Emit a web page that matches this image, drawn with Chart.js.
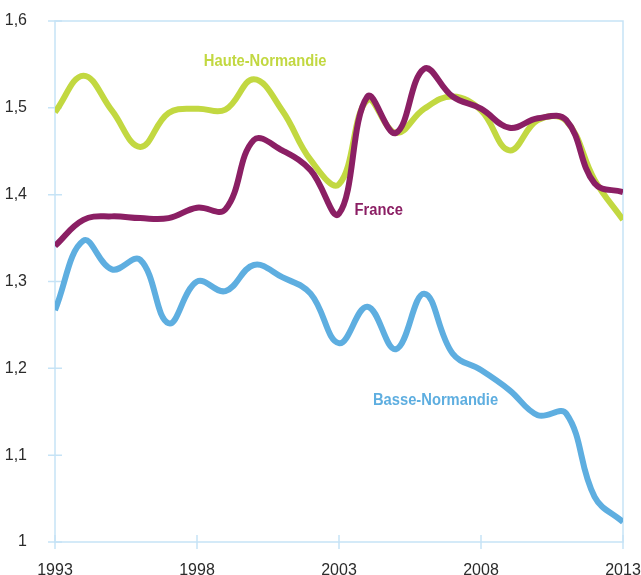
<!DOCTYPE html>
<html>
<head>
<meta charset="utf-8">
<script src="https://cdn.jsdelivr.net/npm/chart.js@4/dist/chart.umd.min.js"></script>
<style>
  html, body { margin: 0; padding: 0; background: #fff; }
  #wrap { width: 641px; height: 575px; }
</style>
</head>
<body>
<div id="wrap"><canvas id="fertChart"></canvas></div>
<script>
// Data
const years = [1993, 1994, 1995, 1996, 1997, 1998, 1999, 2000, 2001, 2002, 2003,
               2004, 2005, 2006, 2007, 2008, 2009, 2010, 2011, 2012, 2013];
const hauteNormandie = [1.495, 1.537, 1.497, 1.455, 1.494, 1.499, 1.498, 1.533, 1.497, 1.440, 1.412,
                        1.509, 1.471, 1.499, 1.513, 1.497, 1.451, 1.486, 1.485, 1.417, 1.371];
const france = [1.341, 1.371, 1.375, 1.373, 1.373, 1.385, 1.383, 1.463, 1.451, 1.428, 1.378,
                 1.513, 1.471, 1.545, 1.513, 1.499, 1.477, 1.488, 1.486, 1.413, 1.403];
const basseNormandie = [1.267, 1.347, 1.314, 1.325, 1.252, 1.300, 1.289, 1.319, 1.305, 1.286, 1.229,
                        1.271, 1.222, 1.286, 1.217, 1.198, 1.175, 1.146, 1.148, 1.052, 1.023];
const xTicks = [1993, 1998, 2003, 2008, 2013];
const yTicks = [1, 1.1, 1.2, 1.3, 1.4, 1.5, 1.6];

const AXIS_COLOR = '#c6e3f6';

const toPoints = vals => years.map((y, i) => ({ x: y, y: vals[i] }));

// Series names written next to the curves
const seriesLabels = [
    { text: 'Haute-Normandie', x: 2000.4, y: 1.553, color: '#c2d841' },
    { text: 'France', x: 2004.4, y: 1.382, color: '#8b1f64' },
    { text: 'Basse-Normandie', x: 2006.4, y: 1.163, color: '#5eaee0' }
];

// Axis box + cross tick marks
const frame = {
    id: 'frame',
    beforeDatasetsDraw(chart) {
        const { ctx, chartArea: a, scales } = chart;
        ctx.save();
        ctx.strokeStyle = AXIS_COLOR;
        ctx.lineWidth = 1.5;
        ctx.strokeRect(a.left, a.top, a.right - a.left, a.bottom - a.top);
        ctx.beginPath();
        yTicks.forEach(v => {
            const py = scales.y.getPixelForValue(v);
            ctx.moveTo(a.left - 7, py);
            ctx.lineTo(a.left + 7, py);
        });
        xTicks.forEach(v => {
            const px = scales.x.getPixelForValue(v);
            ctx.moveTo(px, a.bottom - 7);
            ctx.lineTo(px, a.bottom + 7);
        });
        ctx.stroke();
        ctx.restore();
    },
    afterDatasetsDraw(chart) {
        const { ctx, scales } = chart;
        ctx.save();
        ctx.font = "bold 16px 'Liberation Sans', Arial, sans-serif";
        ctx.textAlign = 'center';
        ctx.textBaseline = 'middle';
        seriesLabels.forEach(l => {
            ctx.save();
            ctx.translate(scales.x.getPixelForValue(l.x), scales.y.getPixelForValue(l.y));
            ctx.scale(0.92, 1);
            ctx.fillStyle = l.color;
            ctx.fillText(l.text, 0, 0);
            ctx.restore();
        });
        ctx.restore();
    }
};

const lineStyle = color => ({
    borderColor: color,
    backgroundColor: color,
    borderWidth: 6,
    pointRadius: 0,
    tension: 0.4,
    fill: false
});

const noOverhang = s => {
    s.paddingLeft = 0; s.paddingRight = 0; s.paddingTop = 0; s.paddingBottom = 0;
};

const ctx = document.getElementById('fertChart').getContext('2d');
const fertChart = new Chart(ctx, {
    type: 'line',
    data: {
        datasets: [
            { label: 'France', data: toPoints(france), ...lineStyle('#8b1f64') },
            { label: 'Haute-Normandie', data: toPoints(hauteNormandie), ...lineStyle('#c2d841') },
            { label: 'Basse-Normandie', data: toPoints(basseNormandie), ...lineStyle('#5eaee0') }
        ]
    },
    options: {
        responsive: true,
        maintainAspectRatio: false,
        animation: false,
        layout: { padding: { top: 21, right: 18, left: 0, bottom: 0 } },
        plugins: {
            legend: { display: false },
            tooltip: { enabled: false }
        },
        scales: {
            x: {
                type: 'linear',
                min: 1993,
                max: 2013,
                afterBuildTicks: s => { s.ticks = xTicks.map(v => ({ value: v })); },
                afterFit: s => { s.height = 33; noOverhang(s); },
                grid: { display: false },
                border: { display: false },
                ticks: {
                    padding: 11,
                    maxRotation: 0,
                    color: '#2b2b2b',
                    font: { family: "'Liberation Sans', Arial, sans-serif", size: 16 },
                    callback: v => String(v)
                }
            },
            y: {
                min: 1,
                max: 1.6,
                afterBuildTicks: s => { s.ticks = yTicks.map(v => ({ value: v })); },
                afterFit: s => { s.width = 55; noOverhang(s); },
                grid: { display: false },
                border: { display: false },
                ticks: {
                    padding: 20,
                    color: '#2b2b2b',
                    font: { family: "'Liberation Sans', Arial, sans-serif", size: 16 },
                    callback: v => String(Math.round(v * 10) / 10).replace('.', ',')
                }
            }
        }
    },
    plugins: [frame]
});
</script>
</body>
</html>
